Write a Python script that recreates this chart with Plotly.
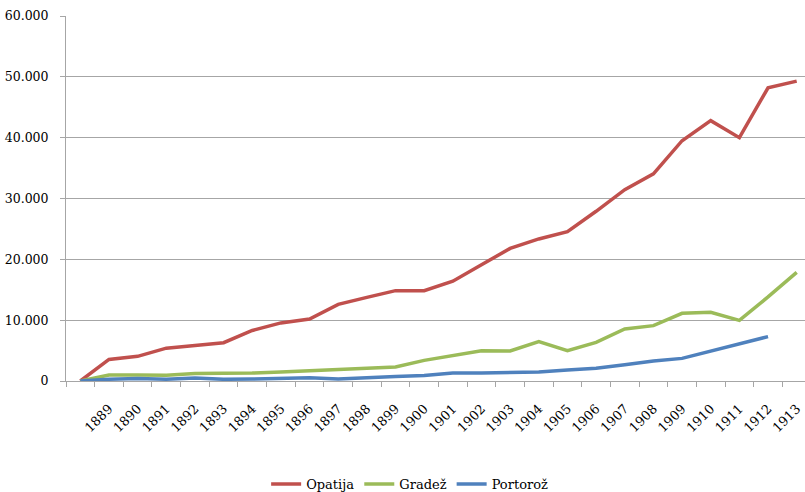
import plotly.graph_objects as go

years = list(range(1888, 1914))
tick_labels = [str(y) for y in range(1889, 1914)]

opatija = [0, 3550, 4050, 5400, 5850, 6300, 8300, 9550, 10200, 12600, 13750, 14850, 14850,
           16400, 19100, 21800, 23350, 24550, 27900, 31450, 34050, 39500, 42800, 40000, 48200, 49300]
gradez = [0, 1000, 1000, 950, 1250, 1250, 1300, 1480, 1690, 2020, 2130, 2300, 3390,
          4160, 4980, 4930, 6460, 4980, 6350, 8550, 9100, 11120, 11290, 9970, 13820, 17860]
portoroz = [0, 300, 430, 300, 490, 280, 330, 430, 540, 330, 600, 760, 920,
            1310, 1310, 1420, 1480, 1800, 2080, 2680, 3280, 3720, 4870, 6130, 7290, None]

series = [("Opatija", opatija, "#C0504D"),
          ("Gradež", gradez, "#9BBB59"),
          ("Portorož", portoroz, "#4F81BD")]

fig = go.Figure()
for name, vals, col in series:
    fig.add_trace(go.Scatter(x=years, y=vals, name=name, mode="lines",
                             line=dict(color=col, width=3.5)))

boundaries = [y - 0.5 for y in years] + [years[-1] + 0.5]
grid = "#A6A6A6"
font = "DejaVu Serif"

fig.update_layout(
    width=805, height=492,
    margin=dict(l=66, r=0, t=16, b=111, autoexpand=False),
    paper_bgcolor="white", plot_bgcolor="white",
    separators=",.",
    font=dict(family=font, size=13, color="#000000"),
    showlegend=True,
    legend=dict(orientation="h", x=0.465, xanchor="center", y=-0.282, yanchor="middle",
                font=dict(family=font, size=13), itemwidth=30),
    xaxis=dict(range=[years[0] - 0.5, years[0] - 0.5 + 25.79], automargin=False,
               tickmode="array", tickvals=list(range(1889, 1914)), ticktext=tick_labels,
               tickangle=-45, ticks="", ticklabelstandoff=14,
               showgrid=False, zeroline=False,
               showline=True, linecolor=grid, linewidth=1,
               tickfont=dict(family=font, size=13),
               minor=dict(tickmode="array", tickvals=boundaries, ticks="outside",
                          ticklen=5, tickcolor=grid, tickwidth=1, showgrid=False)),
    yaxis=dict(range=[0, 60000], tickmode="linear", tick0=0, dtick=10000, tickformat=",d",
               automargin=False,
               showgrid=True, gridcolor=grid, gridwidth=1, zeroline=False,
               showline=True, linecolor=grid, linewidth=1,
               ticks="outside", ticklen=5, tickcolor=grid, ticklabelstandoff=9,
               tickfont=dict(family=font, size=12.5)),
)

fig.write_html("out.html")
